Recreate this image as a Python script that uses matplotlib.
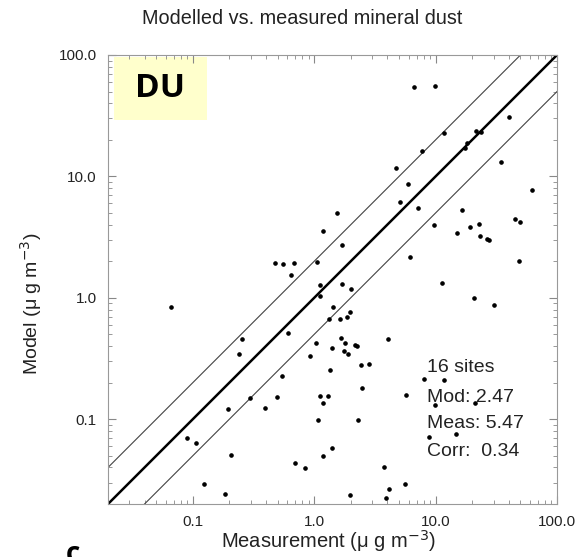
import matplotlib
matplotlib.use("Agg")
import matplotlib.pyplot as plt
import matplotlib.ticker as mticker
from matplotlib.patches import Rectangle
import numpy as np

# ---- data ----
measured = [6.60, 9.96, 40.0, 11.7, 21.4, 23.5, 18.1, 17.4, 7.73, 34.4,
            4.75, 5.97, 62.7, 5.13, 7.21, 1.54, 16.4, 45.4, 49.3, 9.65,
            22.6, 19.2, 1.18, 15.0, 23.4, 26.4, 27.4, 1.69, 6.12, 48.4,
            0.475, 0.553, 0.682, 1.06, 0.644, 11.2, 1.11, 1.69, 1.99, 1.12,
            20.6, 30.1, 0.0658, 1.43, 1.97, 1.32, 1.64, 1.86, 0.605, 0.254,
            4.03, 1.65, 1.04, 1.80, 2.16, 2.26, 1.75, 1.41, 1.91, 0.240,
            0.918, 2.43, 2.80, 1.36, 0.540, 7.98, 11.7, 2.48, 0.297, 0.496,
            1.11, 1.30, 1.17, 5.70, 9.96, 21.0, 0.393, 0.194, 1.07, 2.31,
            8.77, 0.0891, 0.106, 1.39, 0.205, 1.19, 0.695, 0.835, 3.76, 5.56,
            0.123, 4.11, 1.96, 0.184, 3.93, 14.6]
modelled = [54.4, 55.7, 31.1, 22.6, 23.6, 23.2, 19.0, 17.1, 16.3, 13.2,
            11.7, 8.69, 7.71, 6.21, 5.51, 5.04, 5.31, 4.42, 4.20, 3.94,
            4.09, 3.84, 3.54, 3.43, 3.22, 3.03, 3.02, 2.73, 2.18, 1.99,
            1.94, 1.90, 1.92, 1.97, 1.55, 1.33, 1.28, 1.31, 1.18, 1.04,
            0.99, 0.864, 0.835, 0.843, 0.767, 0.671, 0.663, 0.700, 0.515, 0.457,
            0.459, 0.467, 0.428, 0.422, 0.409, 0.401, 0.367, 0.385, 0.341, 0.346,
            0.330, 0.282, 0.284, 0.252, 0.228, 0.216, 0.212, 0.179, 0.150, 0.151,
            0.154, 0.154, 0.136, 0.159, 0.131, 0.136, 0.124, 0.121, 0.0976, 0.0983,
            0.0712, 0.0703, 0.0639, 0.0578, 0.0509, 0.0500, 0.0435, 0.0398, 0.0400, 0.0294,
            0.0295, 0.0266, 0.0238, 0.0242, 0.0224, 0.0758]
axis_range = [0.02, 100.0]
major_ticks = [0.1, 1.0, 10.0, 100.0]
tick_labels = ["0.1", "1.0", "10.0", "100.0"]
factor = 2.0
stats_lines = ["16 sites", "Mod: 2.47", "Meas: 5.47", "Corr:  0.34"]
title = "Modelled vs. measured mineral dust"
panel_tag = "DU"

FONT = ["Liberation Sans", "DejaVu Sans"]
BOLD = ["Open Sans", "DejaVu Sans"]
TXT = "#222222"

fig = plt.figure(figsize=(5.78, 5.57), dpi=100)
ax = fig.add_axes([108 / 578, 53 / 557, 449 / 578, 449 / 557])
ax.set_xscale("log")
ax.set_yscale("log")
ax.set_xlim(axis_range)
ax.set_ylim(axis_range)

# 1:1 and factor-of-2 lines
line_x = np.array(axis_range)
ax.plot(line_x, line_x, color="black", lw=1.8, zorder=2)
ax.plot(line_x, line_x * factor, color="#444444", lw=0.8, zorder=2)
ax.plot(line_x, line_x / factor, color="#444444", lw=0.8, zorder=2)

ax.plot(measured, modelled, linestyle="none", marker="o", ms=2.3,
        color="black", zorder=3)

# ticks
for axis in (ax.xaxis, ax.yaxis):
    axis.set_major_locator(mticker.FixedLocator(major_ticks))
    axis.set_major_formatter(mticker.FixedFormatter(tick_labels))
    axis.set_minor_locator(mticker.LogLocator(base=10, subs=np.arange(2, 10)))
    axis.set_minor_formatter(mticker.NullFormatter())
ax.tick_params(which="both", direction="in", top=True, right=True,
               color="#888888", labelsize=11, labelcolor=TXT)
ax.tick_params(which="major", length=6, width=0.8, pad=8)
ax.tick_params(which="minor", length=3, width=0.6)
for lab in ax.get_xticklabels() + ax.get_yticklabels():
    lab.set_family(FONT)
for s in ax.spines.values():
    s.set_color("#999999")
    s.set_linewidth(0.8)

fig.text(328 / 578, 1 - 541 / 557, "Measurement (\u03bc g m$^{-3}$)",
         ha="center", va="center", fontsize=14.5, family=FONT, color=TXT)
fig.text(31 / 578, 1 - 304 / 557, "Model (\u03bc g m$^{-3}$)",
         ha="center", va="center", rotation=90, fontsize=14, family=FONT,
         color=TXT)

fig.text(302 / 578, 1 - 19 / 557, title, ha="center", va="center",
         fontsize=14.3, family=FONT, color=TXT)

# DU box
ax.add_patch(Rectangle((114 / 578, 1 - 120 / 557), 93 / 578, 63 / 557,
                       transform=fig.transFigure, facecolor="#ffffcc",
                       edgecolor="none", zorder=1))
fig.text(160 / 578, 1 - 89 / 557, panel_tag, ha="center", va="center",
         fontsize=24, fontweight="bold", family=BOLD, color="black")

# statistics text
ys = [367, 397, 424, 452]
for s, yy in zip(stats_lines, ys):
    fig.text(427 / 578, 1 - yy / 557, s, ha="left", va="center",
             fontsize=14, family=FONT, color=TXT)

# panel letter, cut off at the lower edge as in the reference
fig.text(66 / 578, -12 / 557, "c", ha="left", va="bottom", fontsize=20,
         fontweight="bold", family=BOLD)

fig.savefig("out.png", dpi=100)
